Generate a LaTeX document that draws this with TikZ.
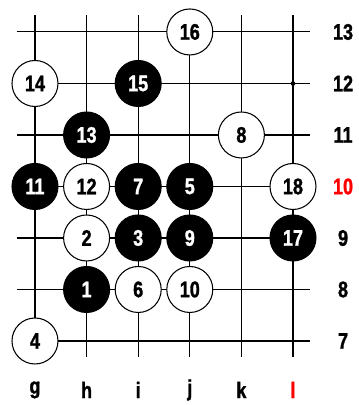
\documentclass[tikz,border=0pt]{standalone}
\usepackage{fontspec}
\newfontfamily\boardfont{Liberation Sans Bold}[FakeStretch=0.8, FakeBold=1.4]
\usepackage{xcolor}
\definecolor{marker}{RGB}{255, 0, 0}
\usetikzlibrary{positioning}

\tikzset{
    stone/.style={circle, draw=black, line width=0.6pt, minimum size=0.92cm, inner sep=0pt,
        font=\boardfont\fontsize{12.8}{14}\selectfont},
    blackstone/.style={stone, fill=black, text=white},
    whitestone/.style={stone, fill=white, text=black},
    coordlabel/.style={font=\boardfont\fontsize{12.8}{14}\selectfont, inner sep=0pt}
}

\begin{document}
\begin{tikzpicture}[x=1.032cm, y=1.03cm]
    % frame: 359 x 405 px
    \useasboundingbox (-0.678, -1.243) rectangle (6.279, 6.621);

    % Grid lines
    \foreach \c in {0,...,5}
        \draw[line width=0.6pt] (\c, -0.31) -- (\c, 6.33);
    \foreach \r in {0,...,6}
        \draw[line width=0.6pt] (-0.35, \r) -- (5.33, \r);

    % Hoshi at l12
    \fill (5, 5) circle (0.045);

    % Stones (columns g..l = 0..5, rows 7..13 = 0..6)
    \node[blackstone] (s1) at (1, 1) {1};
    \node[whitestone] (s2) at (1, 2) {2};
    \node[blackstone] (s3) at (2, 2) {3};
    \node[whitestone] (s4) at (0, 0) {4};
    \node[blackstone] (s5) at (3, 3) {5};
    \node[whitestone] (s6) at (2, 1) {6};
    \node[blackstone] (s7) at (2, 3) {7};
    \node[whitestone] (s8) at (4, 4) {8};
    \node[blackstone] (s9) at (3, 2) {9};
    \node[whitestone] (s10) at (3, 1) {10};
    \node[blackstone] (s11) at (0, 3) {11};
    \node[whitestone] (s12) at (1, 3) {12};
    \node[blackstone] (s13) at (1, 4) {13};
    \node[whitestone] (s14) at (0, 5) {14};
    \node[blackstone] (s15) at (2, 5) {15};
    \node[whitestone] (s16) at (3, 6) {16};
    \node[blackstone] (s17) at (5, 2) {17};
    \node[whitestone] (s18) at (5, 3) {18};

    % Row labels
    \foreach \r/\n in {0/7, 1/8, 2/9, 4/11, 5/12, 6/13}
        \node[coordlabel] (row\n) at (5.97, \r) {\n};
    \node[coordlabel, text=marker] (row10) at (5.97, 3) {10};

    % Column labels
    \foreach \c/\n in {0/g, 1/h, 2/i, 3/j, 4/k}
        \node[coordlabel] (col\n) at (\c, -0.95) {\n};
    \node[coordlabel, text=marker] (coll) at (5, -0.95) {l};
\end{tikzpicture}
\end{document}
